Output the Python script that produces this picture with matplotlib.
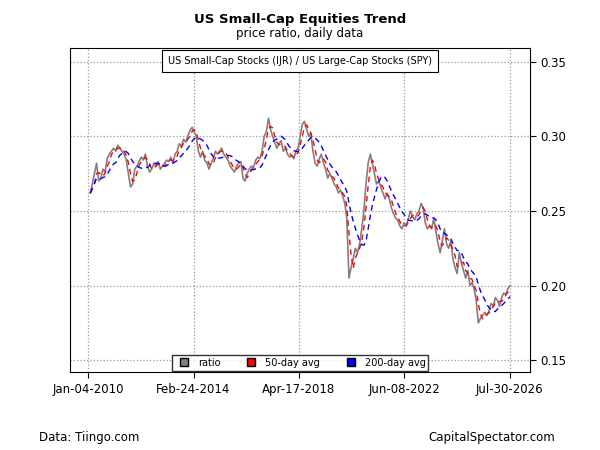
import matplotlib
matplotlib.use("Agg")
import matplotlib.pyplot as plt
import pandas as pd
from matplotlib.lines import Line2D

ratio = [
.262,.268,.275,.282,.270,.272,.278,.276,.285,.288,.290,.292,
.290,.294,.292,.290,.288,.284,.275,.266,.268,.278,.280,.283,
.286,.284,.288,.280,.276,.278,.282,.280,.283,.278,.280,.282,
.284,.283,.286,.282,.288,.290,.295,.293,.298,.296,.300,.304,
.306,.303,.300,.290,.286,.290,.284,.282,.278,.282,.285,.290,
.288,.290,.292,.288,.286,.284,.280,.278,.276,.280,.282,.283,
.272,.270,.275,.278,.280,.279,.284,.286,.285,.290,.300,.303,
.312,.305,.300,.296,.292,.295,.297,.290,.292,.288,.286,.287,
.285,.290,.292,.300,.308,.310,.305,.300,.302,.290,.282,.280,
.285,.288,.282,.278,.272,.275,.272,.268,.266,.262,.264,.260,
.255,.245,.205,.212,.218,.225,.222,.228,.238,.250,.268,.282,
.288,.282,.275,.268,.270,.266,.262,.258,.262,.258,.252,.248,
.245,.244,.240,.238,.242,.240,.245,.250,.246,.244,.248,.250,
.255,.252,.242,.238,.240,.238,.245,.236,.228,.222,.230,.238,
.228,.225,.230,.218,.212,.208,.222,.215,.210,.205,.210,.200,
.202,.198,.190,.175,.178,.180,.182,.180,.183,.188,.186,.192,
.190,.186,.192,.195,.194,.198,.200]
tick_dates = ["2010-01-04","2014-02-24","2018-04-17","2022-06-08","2026-07-30"]
tick_labels = ["Jan-04-2010","Feb-24-2014","Apr-17-2018","Jun-08-2022","Jul-30-2026"]
yticks = [0.15,0.20,0.25,0.30,0.35]

dates = pd.date_range("2010-01-04", periods=len(ratio), freq="MS") + pd.Timedelta(days=3)
s = pd.Series(ratio, index=dates)
ma50 = s.rolling(3, min_periods=1).mean()
ma200 = s.rolling(9, min_periods=1).mean()

fig = plt.figure(figsize=(6,4.5), dpi=100)
ax = fig.add_axes([0.117,0.173,0.766,0.72])
ax.plot(s.index, s.values, color="#808080", lw=1.2)
ax.plot(ma50.index, ma50.values, color="red", lw=1, ls=(0,(4,3)))
ax.plot(ma200.index, ma200.values, color="blue", lw=1, ls=(0,(4,3)))
ax.set_xlim(pd.Timestamp("2009-04-21"), pd.Timestamp("2027-05-13"))
ax.set_ylim(0.142, 0.359)
ax.set_xticks(pd.to_datetime(tick_dates))
ax.set_xticklabels(tick_labels, fontsize=8.5)
ax.yaxis.tick_right()
ax.set_yticks(yticks)
ax.set_yticklabels([f"{v:.2f}" for v in yticks], fontsize=8.5)
ax.grid(True, ls=":", color="#999999", lw=0.9)
ax.tick_params(length=4)
fig.text(0.5, 0.95, "US Small-Cap Equities Trend", ha="center", fontsize=9.5, fontweight="bold")
fig.text(0.5, 0.917, "price ratio, daily data", ha="center", fontsize=8.5)
ax.text(0.5, 0.96, "US Small-Cap Stocks (IJR) / US Large-Cap Stocks (SPY)", transform=ax.transAxes,
        ha="center", va="center", fontsize=7,
        bbox=dict(boxstyle="square,pad=0.6", fc="white", ec="black", lw=0.8))
h = [Line2D([],[],marker="s",ls="",mfc=c,mec="black",ms=6) for c in ["#808080","red","blue"]]
ax.legend(h, ["ratio","50-day avg","200-day avg"], loc="lower center", ncol=3, fontsize=7,
          frameon=True, fancybox=False, edgecolor="black", borderpad=0.3, handletextpad=0.4,
          columnspacing=2.2, bbox_to_anchor=(0.5,-0.01))
fig.text(0.065, 0.02, "Data: Tiingo.com", fontsize=8.5)
fig.text(0.925, 0.02, "CapitalSpectator.com", fontsize=8.5, ha="right")
fig.savefig("out.png")
